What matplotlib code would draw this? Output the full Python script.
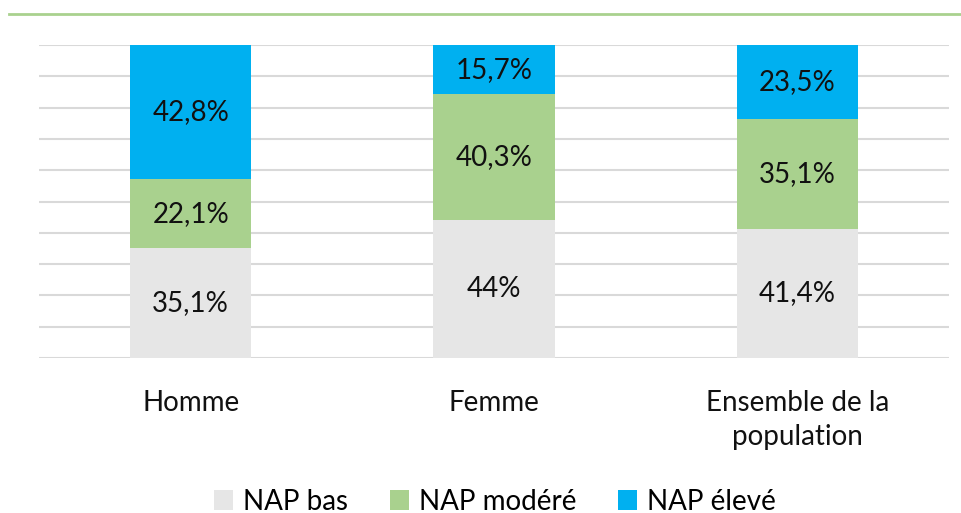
import numpy as np
import matplotlib.pyplot as plt
from matplotlib.lines import Line2D

plt.rcParams['font.family'] = ['Lato', 'DejaVu Sans']

categories = ["Homme", "Femme", "Ensemble de la\npopulation"]
series_names = ["NAP bas", "NAP modéré", "NAP élevé"]
nap_bas = [35.1, 44.0, 41.4]
nap_modere = [22.1, 40.3, 35.1]
nap_eleve = [42.8, 15.7, 23.5]
colors = ["#E6E6E6", "#A9D18E", "#00B0F0"]


def fmt(v):
    s = f"{v:.1f}".replace(".", ",")
    if s.endswith(",0"):
        s = s[:-2]
    return s + "%"


fig = plt.figure(figsize=(9.61, 5.13), dpi=100)
ax = fig.add_axes([0.0406, 0.302, 0.947, 0.61])

x = np.arange(len(categories))
bottom = np.zeros(len(categories))
for name, vals, col in zip(series_names, [nap_bas, nap_modere, nap_eleve], colors):
    ax.bar(x, vals, width=0.4, bottom=bottom, color=col, label=name, zorder=2)
    for xi, b, v in zip(x, bottom, vals):
        ax.text(xi, b + v / 2, fmt(v), ha="center", va="center",
                fontsize=20, color="#111111", zorder=3)
    bottom += np.array(vals)

ax.set_xlim(-0.5, len(categories) - 0.5)
ax.set_ylim(0, 100)
ax.set_yticks(np.arange(0, 101, 10))
ax.yaxis.grid(True, color="#D9D9D9", linewidth=1.5, zorder=0)
ax.set_yticklabels([])
ax.tick_params(left=False, bottom=False, length=0)
ax.set_xticks(x)
ax.set_xticklabels(categories, fontsize=20, color="#111111", linespacing=1.4)
ax.tick_params(axis="x", pad=23)
for s in ax.spines.values():
    s.set_visible(False)

# green line at the top
fig.add_artist(Line2D([0.009, 1.0], [1 - 14 / 513, 1 - 14 / 513],
                      color="#A9D18E", linewidth=2))

fig.legend(loc="center", bbox_to_anchor=(0.515, 0.022), ncol=3, frameon=False,
           fontsize=20, handlelength=0.7, handleheight=0.7, handletextpad=0.35,
           columnspacing=1.5)

fig.savefig("out.png", dpi=100)
